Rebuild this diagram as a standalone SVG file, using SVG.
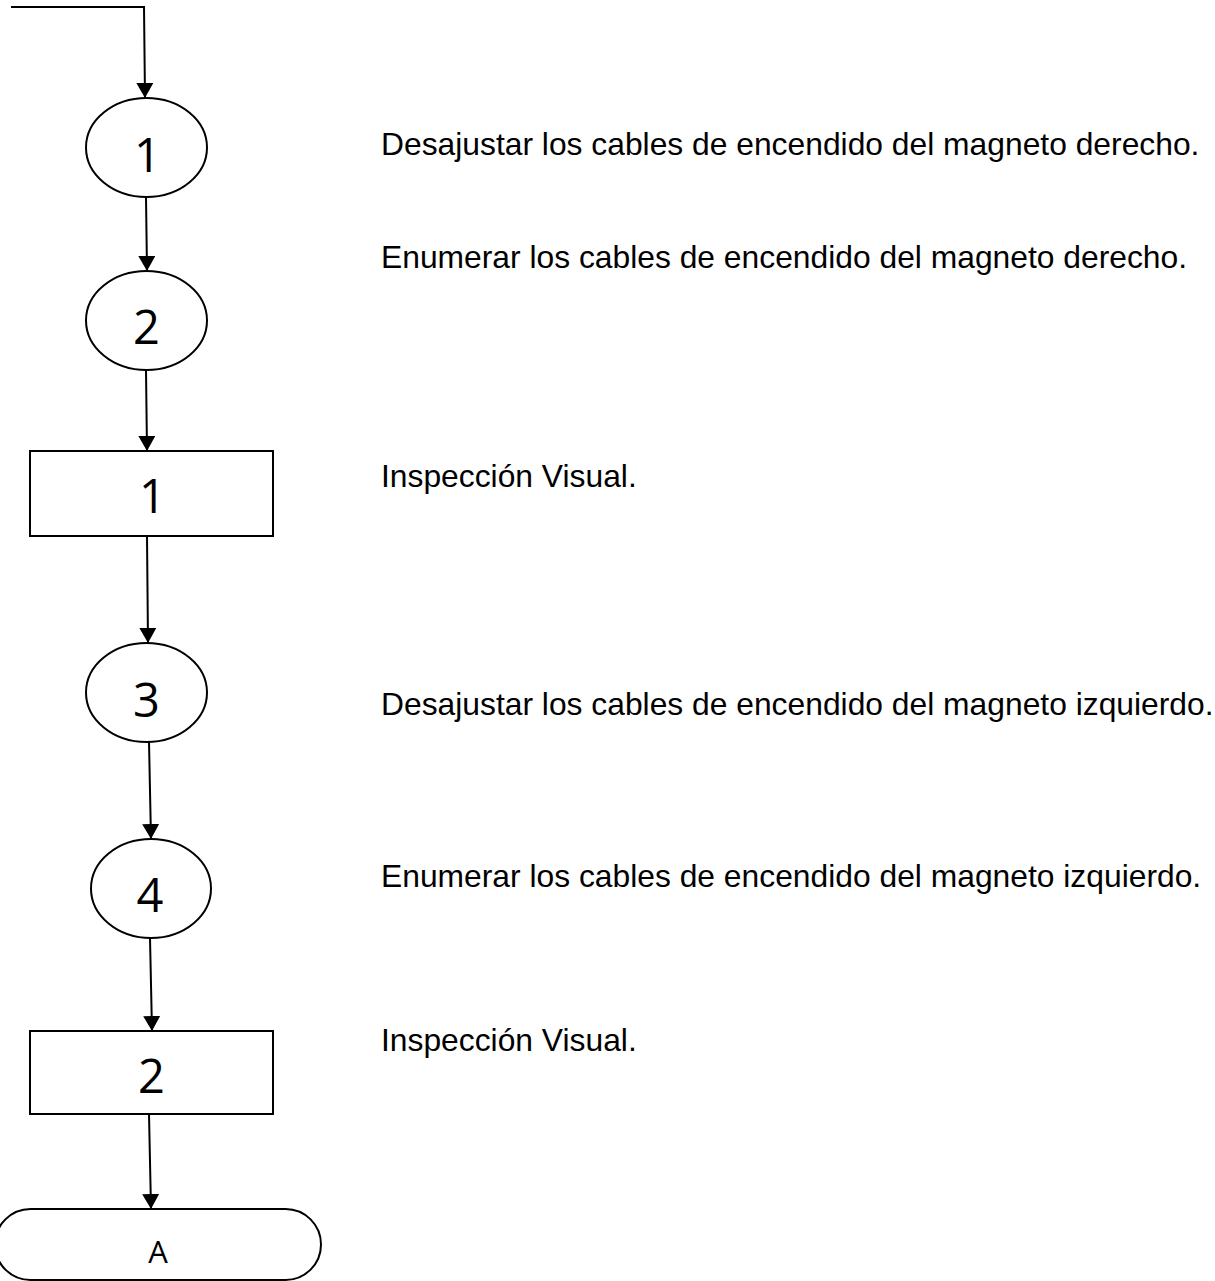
<svg xmlns="http://www.w3.org/2000/svg" width="1215" height="1281" viewBox="0 0 1215 1281">
  <style>
    .shape { fill: #fff; stroke: #000; stroke-width: 2; }
    .num { font-family: "Open Sans", "Liberation Sans", sans-serif; font-size: 47px; fill: #000; text-anchor: middle; }
    .term { font-family: "Open Sans", "Liberation Sans", sans-serif; font-size: 31px; fill: #000; text-anchor: middle; }
    .desc { font-family: "Liberation Sans", Arial, sans-serif; font-size: 31.8px; fill: #000; }
    .link { fill: none; stroke: #000; stroke-width: 2; marker-end: url(#arrow); }
  </style>
  <defs>
    <marker id="arrow" markerUnits="userSpaceOnUse" markerWidth="15" markerHeight="17" viewBox="0 0 15 17" refX="15" refY="8.5" orient="auto">
      <path d="M0,0 L15,8.5 L0,17 Z" fill="#000"/>
    </marker>
  </defs>

  <rect width="1215" height="1281" fill="#fff"/>

  <!-- Connectors -->
  <g id="connectors">
    <polyline class="link" points="11,7 144,7 145,98"/>
    <line class="link" x1="146" y1="197" x2="147" y2="271"/>
    <line class="link" x1="146" y1="370" x2="147" y2="451"/>
    <line class="link" x1="147" y1="536" x2="148" y2="643"/>
    <line class="link" x1="149" y1="742" x2="151" y2="839"/>
    <line class="link" x1="150" y1="938" x2="152" y2="1031"/>
    <line class="link" x1="149" y1="1114" x2="151" y2="1209"/>
  </g>

  <!-- Operations -->
  <g id="op1">
    <ellipse class="shape" cx="146.5" cy="147.5" rx="60.5" ry="49.5"/>
    <text class="num" x="147.5" y="172">1</text>
  </g>
  <g id="op2">
    <ellipse class="shape" cx="146.5" cy="320.5" rx="60.5" ry="49.5"/>
    <text class="num" x="146.5" y="344">2</text>
  </g>
  <g id="insp1">
    <rect class="shape" x="30" y="451" width="243" height="85"/>
    <text class="num" x="152.5" y="513">1</text>
  </g>
  <g id="op3">
    <ellipse class="shape" cx="146.5" cy="692.5" rx="60.5" ry="49.5"/>
    <text class="num" x="146.5" y="717">3</text>
  </g>
  <g id="op4">
    <ellipse class="shape" cx="151" cy="888.5" rx="60" ry="49.5"/>
    <text class="num" x="150" y="912">4</text>
  </g>
  <g id="insp2">
    <rect class="shape" x="30" y="1031" width="243" height="83"/>
    <text class="num" x="151.5" y="1093">2</text>
  </g>
  <g id="connector-a">
    <rect class="shape" x="-5" y="1209" width="326" height="71" rx="35.5" ry="35.5"/>
    <text class="term" x="158" y="1263">A</text>
  </g>

  <!-- Step descriptions -->
  <g id="descriptions">
    <text class="desc" x="381" y="155">Desajustar los cables de encendido del magneto derecho.</text>
    <text class="desc" x="381" y="268">Enumerar los cables de encendido del magneto derecho.</text>
    <text class="desc" x="381" y="487">Inspección Visual.</text>
    <text class="desc" x="381" y="715">Desajustar los cables de encendido del magneto izquierdo.</text>
    <text class="desc" x="381" y="887">Enumerar los cables de encendido del magneto izquierdo.</text>
    <text class="desc" x="381" y="1051">Inspección Visual.</text>
  </g>
</svg>
